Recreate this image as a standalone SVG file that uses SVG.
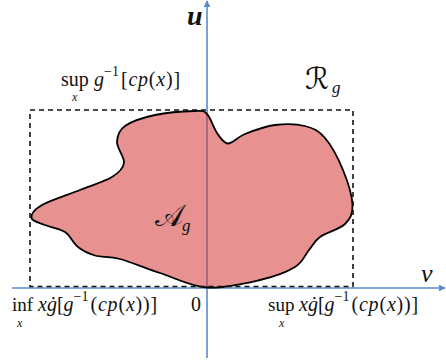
<svg xmlns="http://www.w3.org/2000/svg" width="446" height="362" viewBox="0 0 446 362">
<defs>
<style>
.axis{stroke:#5b8bc7;stroke-width:1.6;fill:none}
.m{font-family:"Liberation Serif","DejaVu Serif",serif;fill:#111}
.i{font-style:italic}
.cal{font-family:"DejaVu Serif","DejaVu Sans","Noto Sans",serif;fill:#111}
</style>
<marker id="ah" viewBox="0 0 10 10" refX="9" refY="5" markerWidth="7" markerHeight="7" markerUnits="userSpaceOnUse" orient="auto">
<path d="M0,0 L10,5 L0,10 z" fill="#5b8bc7"/>
</marker>
</defs>
<rect width="446" height="362" fill="#fff"/>
<g id="connectors">
<line class="axis" x1="207" y1="358" x2="207" y2="1" marker-end="url(#ah)"/>
<line class="axis" x1="12" y1="288" x2="445" y2="288" marker-end="url(#ah)"/>
</g>
<g id="A">
<path d="M207,287.5 C190.3,286.3 174.5,277.75 160,273 C145.5,268.25 130.8,261.9 120,259 C109.2,256.1 102,257.5 95,255.5 C88,253.5 83,250.9 78,247 C73,243.1 70.5,235.7 65,232 C59.5,228.3 50.6,227.3 45,225 C39.4,222.7 32,221.3 31.5,218 C31,214.7 33.9,209.7 42,205 C50.1,200.3 68.3,194.7 80,190 C91.7,185.3 104.7,181.5 112,177 C119.3,172.5 123.2,168.8 124,163 C124.8,157.2 116.8,148.2 117,142 C117.2,135.8 118.7,130.5 125,126 C131.3,121.5 143.3,117.5 155,115 C166.7,112.5 186.3,111.2 195,111 C203.7,110.8 203.3,110.3 207,114 C210.7,117.7 213.5,128.1 217,133 C220.5,137.9 223.3,143.3 228,143.5 C232.7,143.7 237.2,137.1 245,134 C252.8,130.9 265,126.3 275,125 C285,123.7 296.7,123.8 305,126 C313.3,128.2 318.7,130.7 325,138 C331.3,145.3 338.4,158.8 343,170 C347.6,181.2 352.2,196 352.5,205 C352.8,214 350.4,218.7 345,224 C339.6,229.3 326,232.7 320,237 C314,241.3 313.2,245 309,250 C304.8,255 303.2,262 295,267 C286.8,272 274.7,276.6 260,280 C245.3,283.4 223.7,288.7 207,287.5 Z" fill="rgb(214,55,55)" fill-opacity="0.55" stroke="#000" stroke-width="1.8"/>
<text class="cal" x="155" y="226" font-size="30">𝒜</text>
<text class="m i" x="182" y="231" font-size="17">g</text>
</g>
<g id="R">
<rect x="30" y="110" width="323" height="176.5" fill="none" stroke="#111" stroke-width="1.6" stroke-dasharray="5,4"/>
<text class="cal" x="305" y="89" font-size="30">ℛ</text>
<text class="m i" x="332" y="93" font-size="17">g</text>
</g>
<g id="labels">
<text class="m i" x="187" y="25" font-size="28" font-weight="bold">u</text>
<text class="m i" x="421" y="282" font-size="26">v</text>
<text class="m" x="61" y="86" font-size="20">sup</text>
<text class="m i" x="72" y="101" font-size="12">x</text>
<text class="m" x="94" y="86" font-size="20"><tspan class="i">g</tspan><tspan font-size="14" dy="-10">−1</tspan><tspan dy="10" dx="2" letter-spacing="0.8">[<tspan class="i">cp</tspan>(<tspan class="i">x</tspan>)]</tspan></text>
<text class="m" x="12" y="311" font-size="19">inf</text>
<text class="m i" x="17" y="327" font-size="12">x</text>
<text class="m" x="38" y="311" font-size="20"><tspan class="i">xġ</tspan>[<tspan class="i">g</tspan><tspan font-size="14" dy="-10">−1</tspan><tspan dy="10" dx="2" letter-spacing="0.8">(<tspan class="i">cp</tspan>(<tspan class="i">x</tspan>))]</tspan></text>
<text class="m" x="191" y="311" font-size="20">0</text>
<text class="m" x="268" y="311" font-size="19">sup</text>
<text class="m i" x="279" y="327" font-size="12">x</text>
<text class="m" x="299" y="311" font-size="20"><tspan class="i">xġ</tspan>[<tspan class="i">g</tspan><tspan font-size="14" dy="-10">−1</tspan><tspan dy="10" dx="2" letter-spacing="0.8">(<tspan class="i">cp</tspan>(<tspan class="i">x</tspan>))]</tspan></text>
</g>
</svg>
